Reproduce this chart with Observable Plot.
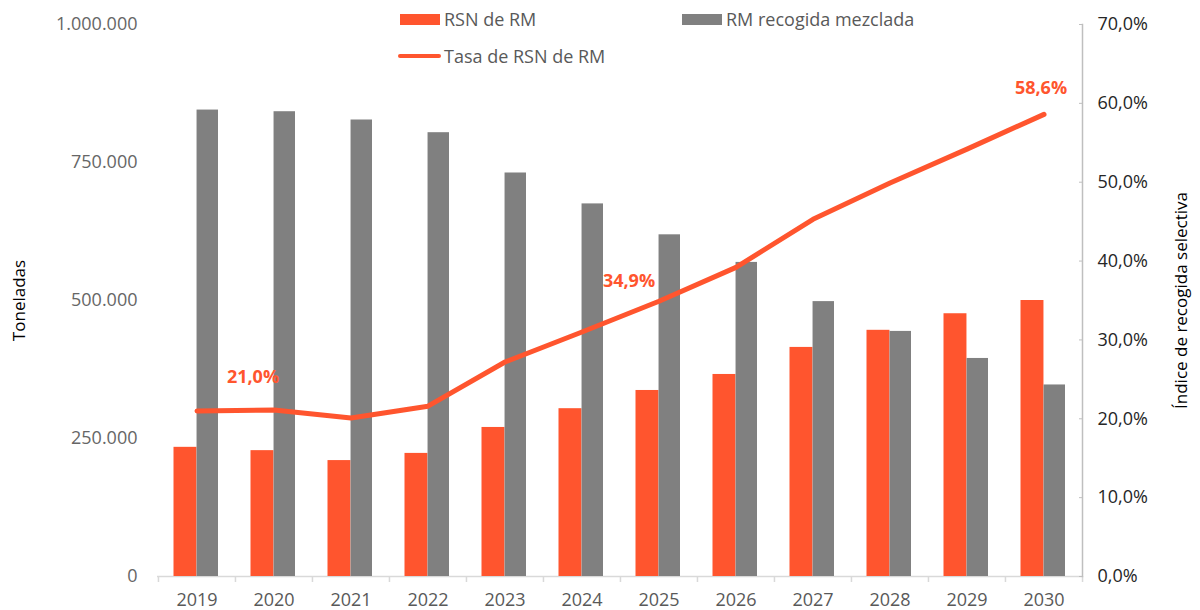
<!DOCTYPE html>
<html>
<head>
<meta charset="utf-8">
<script src="https://cdn.jsdelivr.net/npm/d3@7"></script>
<script src="https://cdn.jsdelivr.net/npm/@observablehq/plot@0.6"></script>
<style>
  html, body { margin: 0; padding: 0; background: #fff; }
  #wrap { position: relative; width: 1200px; height: 610px; font-family: "Open Sans", sans-serif; }
  #legend { position: absolute; left: 0; top: 0; width: 1200px; height: 70px; pointer-events: none; color: #595959; font-size: 18px; }
  .item { position: absolute; display: flex; align-items: center; white-space: nowrap; }
  .sw { display: inline-block; width: 40px; height: 11px; margin-right: 4px; }
  .ln { display: inline-block; width: 43px; height: 4px; border-radius: 2px; margin-right: 3px; }
</style>
</head>
<body>
<div id="wrap">
  <div id="chart"></div>
  <div id="legend"></div>
</div>
<script>
// ---- data ----
const years = ["2019","2020","2021","2022","2023","2024","2025","2026","2027","2028","2029","2030"];
const rsnRM = [234000, 228000, 210000, 223000, 270000, 304000, 337000, 366000, 415000, 446000, 476000, 500000];
const rmMezclada = [845000, 842000, 827000, 804000, 731000, 675000, 619000, 569000, 498000, 444000, 395000, 347000];
const tasaRSN = [21.0, 21.1, 20.1, 21.6, 27.2, 31.0, 34.9, 39.2, 45.3, 49.9, 54.2, 58.6];
const leftTicks = [0, 250000, 500000, 750000, 1000000];
const rightTicks = [0, 10, 20, 30, 40, 50, 60, 70];
const seriesNames = ["RSN de RM", "RM recogida mezclada", "Tasa de RSN de RM"];
const labelYears = ["2019", "2025", "2030"];

// ---- layout / style ----
const W = 1200, H = 610, ML = 157, MR = 118, MT = 24, MB = 34;
const ORANGE = "#FF552E", GRAY = "#808080";
const yMax = 1000000, pMax = 70, k = yMax / pMax;
const bw = (W - ML - MR) / years.length;

const rows = years.map((y, i) => ({year: y, rsn: rsnRM[i], mez: rmMezclada[i], tasa: tasaRSN[i]}));
const fmtT = d3.formatLocale({decimal: ",", thousands: ".", grouping: [3], currency: ["", "€"]}).format(",.0f");
const fmtP = p => p.toFixed(1).replace(".", ",") + "%";
const lab = y => rows.filter(d => d.year === y);

const chart = Plot.plot({
  width: W, height: H,
  marginLeft: ML, marginRight: MR, marginTop: MT, marginBottom: MB,
  style: {fontFamily: "Open Sans, sans-serif", fontSize: "18px", background: "#fff"},
  x: {type: "band", domain: years, padding: 0},
  y: {domain: [0, yMax]},
  marks: [
    Plot.ruleY([0], {stroke: "#d9d9d9", strokeWidth: 1.5}),
    Plot.ruleX(years, {x: d => d, y1: 0, y2: 0, insetBottom: -6, dx: -bw / 2, stroke: "#d9d9d9", strokeWidth: 1.5}),
    Plot.ruleX(years.slice(-1), {x: d => d, y1: 0, y2: 0, insetBottom: -6, dx: bw / 2, stroke: "#d9d9d9", strokeWidth: 1.5}),
    Plot.frame({anchor: "right", stroke: "#bfbfbf", strokeWidth: 1.5}),
    Plot.barY(rows, {x: "year", y: "rsn", fill: ORANGE, insetLeft: 15.5, insetRight: bw / 2}),
    Plot.barY(rows, {x: "year", y: "mez", fill: GRAY, insetLeft: bw / 2, insetRight: 17}),
    Plot.line(rows, {x: "year", y: d => d.tasa * k, stroke: ORANGE, strokeWidth: 5, strokeLinecap: "round", strokeLinejoin: "round"}),
    Plot.text(lab(labelYears[0]), {x: "year", y: d => d.tasa * k, text: d => fmtP(d.tasa), dx: 56, dy: -34, fill: ORANGE, fontWeight: "bold", fontSize: 18}),
    Plot.text(lab(labelYears[1]), {x: "year", y: d => d.tasa * k, text: d => fmtP(d.tasa), dx: -30, dy: -20, fill: ORANGE, fontWeight: "bold", fontSize: 18}),
    Plot.text(lab(labelYears[2]), {x: "year", y: d => d.tasa * k, text: d => fmtP(d.tasa), dx: -3, dy: -26, fill: ORANGE, fontWeight: "bold", fontSize: 18}),
    Plot.axisX({tickSize: 0, tickPadding: 17, color: "#595959", label: null}),
    Plot.axisY(leftTicks, {anchor: "left", tickSize: 0, tickPadding: 20, tickFormat: fmtT, color: "#666666",
      label: "Toneladas", labelAnchor: "center", labelArrow: "none", labelOffset: 145}),
    Plot.axisY(rightTicks.map(p => p * k), {anchor: "right", tickSize: -4, tickPadding: 19, tickFormat: v => fmtP(v / k), color: "#262626",
      label: "Índice de recogida selectiva", labelAnchor: "center", labelArrow: "none", labelOffset: 104})
  ]
});
document.getElementById("chart").appendChild(chart);

// axis tick lines colour
chart.querySelectorAll('[aria-label="y-axis tick"] path').forEach(p => p.setAttribute("stroke", "#bfbfbf"));
chart.querySelectorAll('[aria-label="y-axis label"]').forEach(t => { t.setAttribute("fill", "#000"); t.style.fontSize = "17px"; });

// legend
const legend = document.getElementById("legend");
const items = [
  {name: seriesNames[0], kind: "sw", color: ORANGE, left: 400, top: 7},
  {name: seriesNames[1], kind: "sw", color: GRAY, left: 682, top: 7},
  {name: seriesNames[2], kind: "ln", color: ORANGE, left: 398, top: 44}
];
for (const it of items) {
  const div = document.createElement("div");
  div.className = "item";
  div.style.left = it.left + "px";
  div.style.top = it.top + "px";
  const sw = document.createElement("span");
  sw.className = it.kind;
  sw.style.background = it.color;
  div.appendChild(sw);
  const t = document.createElement("span");
  t.textContent = it.name;
  div.appendChild(t);
  legend.appendChild(div);
}
</script>
</body>
</html>
